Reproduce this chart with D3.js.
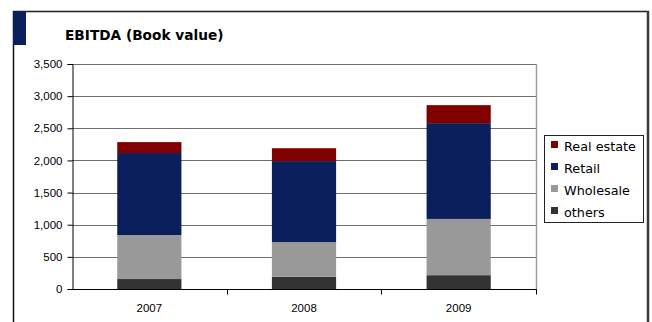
<!DOCTYPE html>
<html><head><meta charset="utf-8">
<script src="https://cdn.jsdelivr.net/npm/d3@7/dist/d3.min.js"></script>
<style>body{margin:0;background:#fff}svg{display:block}</style>
</head><body>
<svg id="c" width="652" height="322"></svg>
<script>
const categories = ["2007", "2008", "2009"];
const seriesNames = ["others", "Wholesale", "Retail", "Real estate"];
const others = [155, 190, 215];
const wholesale = [685, 540, 875];
const retail = [1275, 1260, 1490];
const realEstate = [170, 200, 280];
const yTicks = [0, 500, 1000, 1500, 2000, 2500, 3000, 3500];
const colors = ["#333333", "#999999", "#0a1f5c", "#800000"];

const svg = d3.select("#c");
const rows = categories.map((c, i) => ({cat: c, "others": others[i], "Wholesale": wholesale[i], "Retail": retail[i], "Real estate": realEstate[i]}));
const stack = d3.stack().keys(seriesNames)(rows);

const L = 72, R = 536, T = 64, B = 289;
const x = d3.scaleBand().domain(categories).range([L, R]).paddingInner(0.585).paddingOuter(0.2925);
const y = d3.scaleLinear().domain([0, 3500]).range([B, T]);

// frame
svg.append("line").attr("x1", 13).attr("x2", 649).attr("y1", 11.5).attr("y2", 11.5).attr("stroke", "#222").attr("stroke-width", 1.5);
svg.append("line").attr("x1", 13.5).attr("x2", 13.5).attr("y1", 11).attr("y2", 322).attr("stroke", "#111").attr("stroke-width", 1.5);
svg.append("line").attr("x1", 648).attr("x2", 648).attr("y1", 11).attr("y2", 322).attr("stroke", "#3a3a3a").attr("stroke-width", 2.5);
svg.append("rect").attr("x", 13).attr("y", 11).attr("width", 13).attr("height", 34).attr("fill", "#0a1f5c");

svg.append("text").attr("x", 65).attr("y", 40).attr("font-family", "DejaVu Sans, Verdana, sans-serif")
  .attr("font-weight", "bold").attr("font-size", 13.7).attr("fill", "#000").text("EBITDA (Book value)");

// gridlines
svg.append("g").selectAll("line").data(yTicks.slice(1)).join("line")
  .attr("x1", L).attr("x2", R).attr("y1", d => Math.round(y(d)) + 0.5).attr("y2", d => Math.round(y(d)) + 0.5)
  .attr("stroke", "#6e6e6e").attr("stroke-width", 1);
svg.append("line").attr("x1", R + 0.5).attr("x2", R + 0.5).attr("y1", T).attr("y2", B).attr("stroke", "#a0a0a0").attr("stroke-width", 1.5);

// bars
svg.append("g").selectAll("g").data(stack).join("g").attr("fill", (d, i) => colors[i])
  .selectAll("rect").data(d => d).join("rect")
  .attr("x", d => x(d.data.cat)).attr("width", x.bandwidth())
  .attr("y", d => y(d[1])).attr("height", d => y(d[0]) - y(d[1]));

// y axis
const ya = d3.axisLeft(y).tickValues(yTicks).tickSize(5).tickPadding(5).tickFormat(d3.format(","));
const gy = svg.append("g").attr("transform", `translate(${L + 0.5},0)`).call(ya);
gy.select(".domain").attr("stroke", "#000");
gy.selectAll(".tick line").attr("stroke", "#000");
gy.selectAll("text").attr("font-family", "Liberation Sans, Arial, sans-serif").attr("font-size", 11.5).attr("fill", "#000");

// x axis
const gx = svg.append("g").attr("transform", `translate(0,${B + 0.5})`);
gx.append("line").attr("x1", L).attr("x2", R + 1).attr("stroke", "#000");
const bounds = categories.map((c, i) => L + (R - L) * (i + 1) / categories.length);
gx.selectAll("line.t").data(bounds).join("line").attr("class", "t")
  .attr("x1", d => Math.round(d) + 0.5).attr("x2", d => Math.round(d) + 0.5).attr("y1", 0).attr("y2", 5).attr("stroke", "#000");
gx.selectAll("text").data(categories).join("text")
  .attr("x", d => x(d) + x.bandwidth() / 2).attr("y", 22).attr("text-anchor", "middle")
  .attr("font-family", "Liberation Sans, Arial, sans-serif").attr("font-size", 11.5).attr("fill", "#000").text(d => d);

// legend
const lg = svg.append("g");
lg.append("rect").attr("x", 544.5).attr("y", 135.5).attr("width", 99).attr("height", 87).attr("fill", "#fff").attr("stroke", "#222").attr("stroke-width", 1);
const legendOrder = seriesNames.slice().reverse();
const li = lg.selectAll("g").data(legendOrder).join("g").attr("transform", (d, i) => `translate(0,${147 + i * 22})`);
li.append("rect").attr("x", 551).attr("y", -6).attr("width", 7).attr("height", 7).attr("fill", d => colors[seriesNames.indexOf(d)]);
li.append("text").attr("x", 564).attr("y", 4).attr("font-family", "DejaVu Sans, Verdana, sans-serif").attr("font-size", 12.8).attr("fill", "#000").text(d => d);
</script>
</body></html>
